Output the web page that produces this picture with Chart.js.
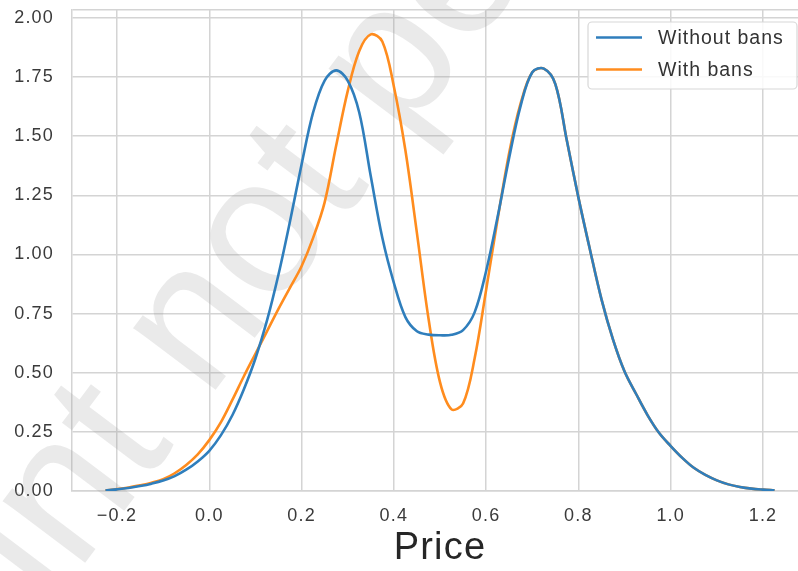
<!DOCTYPE html>
<html>
<head>
<meta charset="utf-8">
<script src="https://cdn.jsdelivr.net/npm/chart.js@4.4.0/dist/chart.umd.min.js"></script>
<style>
  html, body { margin: 0; padding: 0; background: #fff; overflow: hidden; }
</style>
</head>
<body>
<canvas id="chart" width="812" height="571"></canvas>
<script>
// KDE of price (x step 0.025)
const prices = [
  -0.225, -0.2, -0.175, -0.15, -0.125, -0.1, -0.075, -0.05, -0.025, 0.0,
  0.025, 0.05, 0.075, 0.1, 0.125, 0.15, 0.175, 0.2, 0.225, 0.25,
  0.275, 0.3, 0.325, 0.35, 0.375, 0.4, 0.425, 0.45, 0.475, 0.5,
  0.525, 0.55, 0.575, 0.6, 0.625, 0.65, 0.675, 0.7, 0.725, 0.75,
  0.775, 0.8, 0.825, 0.85, 0.875, 0.9, 0.925, 0.95, 0.975, 1.0,
  1.025, 1.05, 1.075, 1.1, 1.125, 1.15, 1.175, 1.2, 1.225
];
const withoutBans = [
  0.002, 0.007, 0.013, 0.021, 0.031, 0.044, 0.063, 0.09, 0.125, 0.17,
  0.235, 0.32, 0.43, 0.56, 0.72, 0.915, 1.14, 1.38, 1.6, 1.735,
  1.778, 1.735, 1.6, 1.33, 1.07, 0.88, 0.735, 0.675, 0.661, 0.658,
  0.66, 0.68, 0.755, 0.93, 1.16, 1.41, 1.63, 1.77, 1.785, 1.72,
  1.48, 1.24, 1.02, 0.81, 0.64, 0.505, 0.41, 0.32, 0.245, 0.19,
  0.14, 0.098, 0.068, 0.045, 0.028, 0.017, 0.01, 0.006, 0.003
];
const withBans = [
  0.002, 0.008, 0.015, 0.024, 0.035, 0.05, 0.075, 0.11, 0.155, 0.215,
  0.29, 0.385, 0.485, 0.58, 0.675, 0.77, 0.86, 0.95, 1.07, 1.22,
  1.46, 1.69, 1.86, 1.93, 1.9, 1.71, 1.44, 1.09, 0.73, 0.46,
  0.345, 0.37, 0.56, 0.85, 1.15, 1.43, 1.64, 1.77, 1.785, 1.72,
  1.48, 1.24, 1.02, 0.81, 0.64, 0.505, 0.41, 0.32, 0.245, 0.19,
  0.14, 0.098, 0.068, 0.045, 0.028, 0.017, 0.01, 0.006, 0.003
];
const seriesLabels = ['Without bans', 'With bans'];
const xTicks = [-0.2, 0.0, 0.2, 0.4, 0.6, 0.8, 1.0, 1.2];
const yTicks = [0, 0.25, 0.5, 0.75, 1.0, 1.25, 1.5, 1.75, 2.0];

const FONT = "'Liberation Sans', Arial, sans-serif";
const GRID = '#d4d4d4';
const SPACING = '1.2px';

function toPoints(values) {
    return prices.map((p, i) => ({ x: p, y: values[i] }));
}

// wider spacing like the reference text
const spacingPlugin = {
    id: 'letterSpacing',
    beforeUpdate(chart) { chart.ctx.letterSpacing = SPACING; },
    beforeDraw(chart) { chart.ctx.letterSpacing = SPACING; }
};

// faint diagonal watermark over the figure
const watermarkPlugin = {
    id: 'watermark',
    beforeDatasetsDraw(chart) {
        const ctx = chart.ctx;
        const size = 195;
        const text = 'Print not permitted';
        ctx.save();
        ctx.letterSpacing = '0px';
        ctx.font = size + 'px ' + FONT;
        const pre = ctx.measureText('Print n').width;
        const oW = ctx.measureText('o').width;
        ctx.translate(265, 240);
        ctx.rotate(-53 * Math.PI / 180);
        ctx.fillStyle = 'rgba(150,150,150,0.2)';
        ctx.textBaseline = 'alphabetic';
        ctx.fillText(text, -(pre + oW / 2), 0.26 * size);
        ctx.restore();
    }
};

// legend box in the upper right corner
const legendPlugin = {
    id: 'boxLegend',
    afterDraw(chart) {
        const ctx = chart.ctx;
        const x0 = 588, y0 = 22, w = 209, h = 67;
        ctx.save();
        ctx.beginPath();
        ctx.roundRect(x0, y0, w, h, 4);
        ctx.fillStyle = 'rgba(255,255,255,0.85)';
        ctx.fill();
        ctx.lineWidth = 1.2;
        ctx.strokeStyle = '#d8d8d8';
        ctx.stroke();
        ctx.letterSpacing = '1px';
        ctx.font = '19.5px ' + FONT;
        ctx.textBaseline = 'middle';
        chart.data.datasets.forEach((ds, i) => {
            const y = 37.5 + i * 32;
            ctx.beginPath();
            ctx.moveTo(596, y);
            ctx.lineTo(642, y);
            ctx.strokeStyle = ds.borderColor;
            ctx.lineWidth = 2.6;
            ctx.stroke();
            ctx.fillStyle = '#333';
            ctx.fillText(ds.label, 658, y + 1);
        });
        ctx.restore();
    }
};

function fmtX(v) {
    const s = Math.abs(v).toFixed(1);
    return v < -1e-9 ? '\u2212' + s : s;
}

new Chart(document.getElementById('chart'), {
    type: 'line',
    data: {
        datasets: [
            {
                label: seriesLabels[0],
                data: toPoints(withoutBans),
                borderColor: '#2f7ebc',
                borderWidth: 2.6,
                pointRadius: 0,
                tension: 0.35,
                fill: false
            },
            {
                label: seriesLabels[1],
                data: toPoints(withBans),
                borderColor: '#ff8c1e',
                borderWidth: 2.6,
                pointRadius: 0,
                tension: 0.35,
                fill: false
            }
        ]
    },
    options: {
        responsive: false,
        animation: false,
        events: [],
        layout: { padding: { top: 10, right: 4, left: 0, bottom: 0 } },
        scales: {
            x: {
                type: 'linear',
                min: -0.2975,
                max: 1.2975,
                afterBuildTicks(scale) {
                    scale.ticks = xTicks.map(v => ({ value: v }));
                },
                afterFit(scale) {
                    scale.height = 80;
                    scale.paddingLeft = 0;
                    scale.paddingRight = 0;
                },
                grid: { color: GRID, lineWidth: 1.5, drawTicks: false },
                border: { color: GRID, width: 1.5 },
                ticks: {
                    padding: 14,
                    color: '#3a3a3a',
                    font: { family: FONT, size: 18 },
                    maxRotation: 0,
                    callback: v => fmtX(v)
                },
                title: {
                    display: true,
                    text: 'Price',
                    color: '#262626',
                    font: { family: FONT, size: 38 },
                    padding: { top: 0, bottom: 0 }
                }
            },
            y: {
                min: 0,
                max: 2.033,
                afterBuildTicks(scale) {
                    scale.ticks = yTicks.concat([2.033]).map(v => ({ value: v }));
                },
                afterFit(scale) {
                    scale.width = 72;
                    scale.paddingTop = 0;
                    scale.paddingBottom = 0;
                },
                grid: { color: GRID, lineWidth: 1.5, drawTicks: false },
                border: { color: GRID, width: 1.5 },
                ticks: {
                    padding: 18,
                    color: '#3a3a3a',
                    font: { family: FONT, size: 18 },
                    callback: v => (yTicks.includes(v) ? v.toFixed(2) : '')
                }
            }
        },
        plugins: {
            legend: { display: false },
            tooltip: { enabled: false }
        }
    },
    plugins: [spacingPlugin, watermarkPlugin, legendPlugin]
});
</script>
</body>
</html>
